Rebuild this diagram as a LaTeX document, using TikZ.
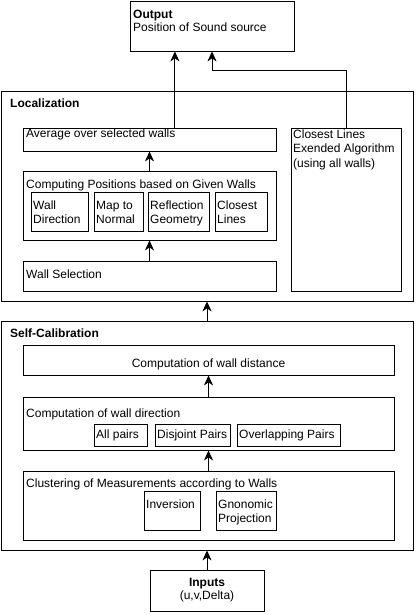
\documentclass[tikz,border=0pt]{standalone}
\usepackage{fontspec}
\setmainfont{Liberation Sans}
\usetikzlibrary{fit,calc,arrows.meta}
\begin{document}
\begin{tikzpicture}[x=1pt,y=-1pt,every node/.style={font=\fontsize{12}{14.5}\selectfont}]
      \tikzset{box/.style={draw, line width=.8pt, inner sep=0pt},
               txt/.style={anchor=base west, inner sep=0pt, align=left},
               arr/.style={-{Stealth[length=10pt,width=9pt,inset=3pt]}, line width=.9pt}}
      \useasboundingbox (0,0) rectangle (415,615);
%% Output
      	\node[box, fit={(130,1) (294,51)}] (out) {};
      	\node[txt] (outT) at (133,19) {\textbf{Output}};
      	\node[txt] (outL) at (133,32) {Position of Sound source};
%% Localization
      	\node[box, fit={(1,91) (413,301)}] (loc) {};
      	\node[txt] (locT) at (10,107) {\textbf{Localization}};
      	\node[box, fit={(23,128) (276,151)}] (avg) {};
      	\node[txt] (avgT) at (26,137.5) {Average over selected walls};
      	\node[box, fit={(291,128) (401,291)}] (cl) {};
      	\node[txt] (clT) at (293,167) {Closest Lines\\Exended Algorithm\\(using all walls)};
      	\node[box, fit={(23,171) (276,240)}] (comp) {};
      	\node[txt] (compT) at (26,188) {Computing Positions based on Given Walls};
      	\node[box, fit={(31,192) (88,231)}] (wd) {};
      	\node[txt] (wdT) at (33,223.5) {Wall\\Direction};
      	\node[box, fit={(94,192) (143,231)}] (mn) {};
      	\node[txt] (mnT) at (96,223.5) {Map to\\Normal};
      	\node[box, fit={(148,192) (209,231)}] (rg) {};
      	\node[txt] (rgT) at (150,223.5) {Reflection\\Geometry};
      	\node[box, fit={(215,192) (267,231)}] (clo) {};
      	\node[txt] (cloT) at (217,223.5) {Closest\\Lines};
      	\node[box, fit={(23,261) (276,291)}] (sel) {};
      	\node[txt] (selT) at (26,278) {Wall Selection};
%% Self-Calibration
      	\node[box, fit={(1,321) (413,550)}] (sc) {};
      	\node[txt] (scT) at (10,337) {\textbf{Self-Calibration}};
      	\node[box, fit={(23,345) (394,375)}] (dist) {};
      	\node[anchor=base, inner sep=0pt] (distT) at (dist.center |- 0,367) {Computation of wall distance};
      	\node[box, fit={(23,397) (394,450)}] (dir) {};
      	\node[txt] (dirT) at (26,417) {Computation of wall direction};
      	\node[box, fit={(94,424) (147,446)}] (ap) {};
      	\node[txt] (apT) at (96,438) {All pairs};
      	\node[box, fit={(155,424) (230,446)}] (dp) {};
      	\node[txt] (dpT) at (157,438) {Disjoint Pairs};
      	\node[box, fit={(237,424) (340,446)}] (op) {};
      	\node[txt] (opT) at (239,438) {Overlapping Pairs};
      	\node[box, fit={(23,471) (394,540)}] (clu) {};
      	\node[txt] (cluT) at (26,487) {Clustering of Measurements according to Walls};
      	\node[box, fit={(144,491) (200,530)}] (inv) {};
      	\node[txt] (invT) at (146,508) {Inversion};
      	\node[box, fit={(216,491) (276,530)}] (gp) {};
      	\node[txt] (gpT) at (218,522.5) {Gnonomic\\Projection};
%% Inputs
      	\node[box, fit={(150,570) (264,611)}] (inp) {};
      	\node[anchor=base, inner sep=0pt] (inpT) at (inp.center |- 0,586) {\textbf{Inputs}};
      	\node[anchor=base, inner sep=0pt] (inpL) at (inp.center |- 0,599) {(u,v,Delta)};
%Arrows
		\draw[arr] ($(avg.north west)!.6!(avg.north east)$) coordinate (a1) -- (a1 |- out.south);
		\draw[arr] (cl.north) -- ++(0,-57) -| (out.south);
		\draw[arr] (comp.north) -- (avg.south);
		\draw[arr] (sel.north) -- (comp.south);
		\draw[arr] (sc.north) -- (loc.south);
		\draw[arr] (dir.north) -- (dist.south);
		\draw[arr] (clu.north) -- (dir.south);
		\draw[arr] (inp.north -| sc.south) -- (sc.south);
	\end{tikzpicture}
\end{document}
